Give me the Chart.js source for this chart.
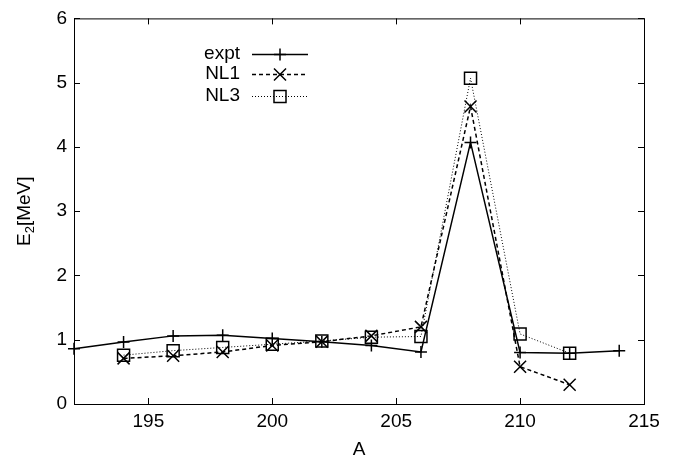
<!DOCTYPE html>
<html>
<head>
<meta charset="utf-8">
<script src="https://cdn.jsdelivr.net/npm/chart.js@4.4.1/dist/chart.umd.min.js"></script>
<style>
  html, body { margin: 0; padding: 0; background: #fff; }
  #wrap { width: 681px; height: 461px; }
</style>
</head>
<body>
<div id="wrap"><canvas id="chart" width="681" height="461"></canvas></div>
<script>
// mass number A
var exptA = [192, 194, 196, 198, 200, 202, 204, 206, 208, 210, 212, 214];
var calcA = [194, 196, 198, 200, 202, 204, 206, 208, 210, 212];
// E2 values in MeV
var expt = [0.86, 0.965, 1.06, 1.07, 1.02, 0.97, 0.91, 0.81, 4.07, 0.80, 0.79, 0.83];
var nl1  = [0.71, 0.75, 0.81, 0.91, 0.97, 1.06, 1.20, 4.63, 0.58, 0.30];
var nl3  = [0.76, 0.83, 0.88, 0.93, 0.98, 1.04, 1.05, 5.07, 1.09, 0.79];
// tick labels
var xTicks = [195, 200, 205, 210, 215];
var yTicks = [0, 1, 2, 3, 4, 5, 6];

var FONT = '"Liberation Sans", Arial, Helvetica, sans-serif';

function pts(xs, ys) {
  return xs.map(function(x, i) { return { x: x, y: ys[i] }; });
}

// inward ticks on all four sides, plus axis titles and the key
var framePlugin = {
  id: 'frame',
  afterDraw: function(chart) {
    var ctx = chart.ctx, a = chart.chartArea;
    var xs = chart.scales.x, ys = chart.scales.y;
    ctx.save();
    ctx.strokeStyle = '#000';
    ctx.lineWidth = 1;
    ctx.strokeRect(a.left + 0.5, a.top + 0.5, a.right - a.left, a.bottom - a.top);
    ctx.beginPath();
    xTicks.forEach(function(v) {
      var px = Math.round(xs.getPixelForValue(v)) + 0.5;
      ctx.moveTo(px, a.bottom); ctx.lineTo(px, a.bottom - 6);
      ctx.moveTo(px, a.top); ctx.lineTo(px, a.top + 6);
    });
    yTicks.forEach(function(v) {
      var py = Math.round(ys.getPixelForValue(v)) + 0.5;
      ctx.moveTo(a.left, py); ctx.lineTo(a.left + 6, py);
      ctx.moveTo(a.right, py); ctx.lineTo(a.right - 6, py);
    });
    ctx.stroke();

    // x title
    ctx.fillStyle = '#000';
    ctx.font = '19px ' + FONT;
    ctx.textAlign = 'center';
    ctx.textBaseline = 'middle';
    ctx.fillText('A', (a.left + a.right) / 2, 450);

    // y title with subscript
    ctx.translate(25, (a.top + a.bottom) / 2);
    ctx.rotate(-Math.PI / 2);
    ctx.textAlign = 'left';
    ctx.textBaseline = 'middle';
    var big = '19px ' + FONT, small = '13px ' + FONT;
    ctx.font = big;
    var wE = ctx.measureText('E').width;
    var wRest = ctx.measureText('[MeV]').width;
    ctx.font = small;
    var w2 = ctx.measureText('2').width;
    var x0 = -(wE + w2 + wRest) / 2;
    ctx.font = big;
    ctx.fillText('E', x0, 0);
    ctx.font = small;
    ctx.fillText('2', x0 + wE, 5);
    ctx.font = big;
    ctx.fillText('[MeV]', x0 + wE + w2, 0);
    ctx.restore();

    // key
    ctx.save();
    var rows = [54, 74, 96];
    chart.data.datasets.forEach(function(ds, i) {
      var y = rows[i];
      ctx.fillStyle = '#000';
      ctx.font = '19px ' + FONT;
      ctx.textAlign = 'right';
      ctx.textBaseline = 'middle';
      ctx.fillText(ds.label, 240, y);
      ctx.strokeStyle = '#000';
      ctx.lineWidth = ds.borderWidth;
      ctx.setLineDash(ds.borderDash || []);
      ctx.beginPath();
      ctx.moveTo(252, y + 0.5); ctx.lineTo(308, y + 0.5);
      ctx.stroke();
      ctx.setLineDash([]);
      ctx.lineWidth = ds.pointBorderWidth;
      ctx.fillStyle = 'rgba(0,0,0,0)';
      Chart.helpers.drawPoint(ctx, {
        pointStyle: ds.pointStyle, radius: ds.pointRadius, rotation: 0, borderWidth: ds.pointBorderWidth
      }, 280, y + 0.5);
    });
    ctx.restore();
  }
};

new Chart(document.getElementById('chart'), {
  type: 'scatter',
  data: {
    datasets: [
      {
        label: 'expt',
        data: pts(exptA, expt),
        showLine: true,
        borderColor: '#000',
        backgroundColor: 'rgba(0,0,0,0)',
        borderWidth: 1.5,
        pointStyle: 'cross',
        pointRadius: 6,
        pointBorderWidth: 1.5,
        pointBorderColor: '#000',
        clip: 8
      },
      {
        label: 'NL1',
        data: pts(calcA, nl1),
        showLine: true,
        borderColor: '#000',
        backgroundColor: 'rgba(0,0,0,0)',
        borderWidth: 1.5,
        borderDash: [4, 3],
        pointStyle: 'crossRot',
        pointRadius: 8.5,
        pointBorderWidth: 1.5,
        pointBorderColor: '#000'
      },
      {
        label: 'NL3',
        data: pts(calcA, nl3),
        showLine: true,
        borderColor: '#000',
        backgroundColor: 'rgba(0,0,0,0)',
        borderWidth: 1,
        borderDash: [1, 2],
        pointStyle: 'rect',
        pointRadius: 8.5,
        pointBorderWidth: 1.5,
        pointBorderColor: '#000'
      }
    ]
  },
  options: {
    responsive: false,
    animation: false,
    layout: { padding: { top: 10, right: 37, left: 0, bottom: 0 } },
    plugins: {
      legend: { display: false },
      tooltip: { enabled: false }
    },
    scales: {
      x: {
        type: 'linear',
        min: 192,
        max: 215,
        afterFit: function(s) { s.height = 57; },
        afterBuildTicks: function(s) { s.ticks = xTicks.map(function(v) { return { value: v }; }); },
        grid: { display: false, drawTicks: false },
        border: { display: false },
        ticks: { color: '#000', padding: 6, font: { family: FONT, size: 19 } }
      },
      y: {
        type: 'linear',
        min: 0,
        max: 6,
        afterFit: function(s) { s.width = 74; },
        afterBuildTicks: function(s) { s.ticks = yTicks.map(function(v) { return { value: v }; }); },
        grid: { display: false, drawTicks: false },
        border: { display: false },
        ticks: { color: '#000', padding: 7, font: { family: FONT, size: 19 } }
      }
    }
  },
  plugins: [framePlugin]
});
</script>
</body>
</html>
